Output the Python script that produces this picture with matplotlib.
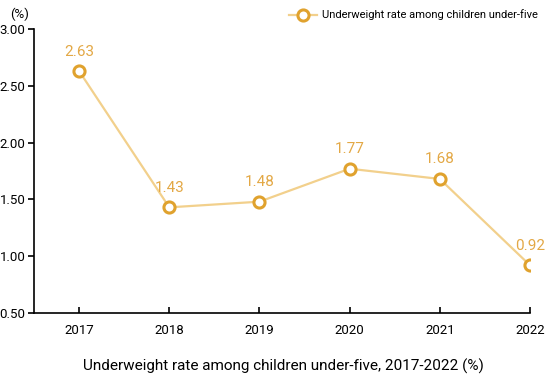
import matplotlib
matplotlib.use("Agg")
import matplotlib.pyplot as plt
from matplotlib import font_manager

years = ["2017", "2018", "2019", "2020", "2021", "2022"]
values = [2.63, 1.43, 1.48, 1.77, 1.68, 0.92]
yticks = [0.50, 1.00, 1.50, 2.00, 2.50, 3.00]
series_name = "Underweight rate among children under-five"
title = "Underweight rate among children under-five, 2017-2022 (%)"

names = {f.name for f in font_manager.fontManager.ttflist}
fam = "Liberation Sans Narrow" if "Liberation Sans Narrow" in names else "Roboto"
plt.rcParams['font.family'] = [fam, 'DejaVu Sans']

line_c = "#F2D08C"
mark_c = "#E0A22E"
lab_c = "#E3A845"

fig = plt.figure(figsize=(5.45, 3.78), dpi=100)
ax = fig.add_axes([34/545, 1-313/378, (530-34)/545, (313-29)/378])
x = list(range(len(years)))
ax.plot(x, values, color=line_c, lw=1.6, marker='o', ms=8, mfc='white',
        mec=mark_c, mew=2.2, label=series_name, zorder=3)
for xi, v in zip(x, values):
    ax.annotate(f"{v:.2f}", (xi, v), xytext=(0, 9), textcoords='offset points',
                ha='center', va='bottom', color=lab_c, fontsize=11)
ax.set_xlim(-0.5, len(years)-1)
ax.set_ylim(0.5, 3.0)
ax.set_yticks(yticks)
ax.set_yticklabels([f"{t:.2f}" for t in yticks], fontsize=9.5)
ax.set_xticks(x)
ax.set_xticklabels(years, fontsize=9.5)
for s in ['top', 'right']:
    ax.spines[s].set_visible(False)
for s in ['left', 'bottom']:
    ax.spines[s].set_linewidth(1.2)
ax.tick_params(axis='y', direction='out', length=4, width=1.2, pad=2)
ax.tick_params(axis='x', direction='in', length=4, width=1.2, pad=8)
fig.text(20/545, 1-14/378, "(%)", fontsize=9.5, ha='center', va='center')
leg = fig.legend(handles=ax.get_lines(), labels=[series_name], loc='center right',
                 bbox_to_anchor=(542/545, 1-15/378), frameon=False, fontsize=8,
                 handlelength=2.5, handletextpad=0.4, borderaxespad=0)
fig.text(283/545, 1-366/378, title, fontsize=11, ha='center', va='center')
fig.savefig("out.png", dpi=100)
